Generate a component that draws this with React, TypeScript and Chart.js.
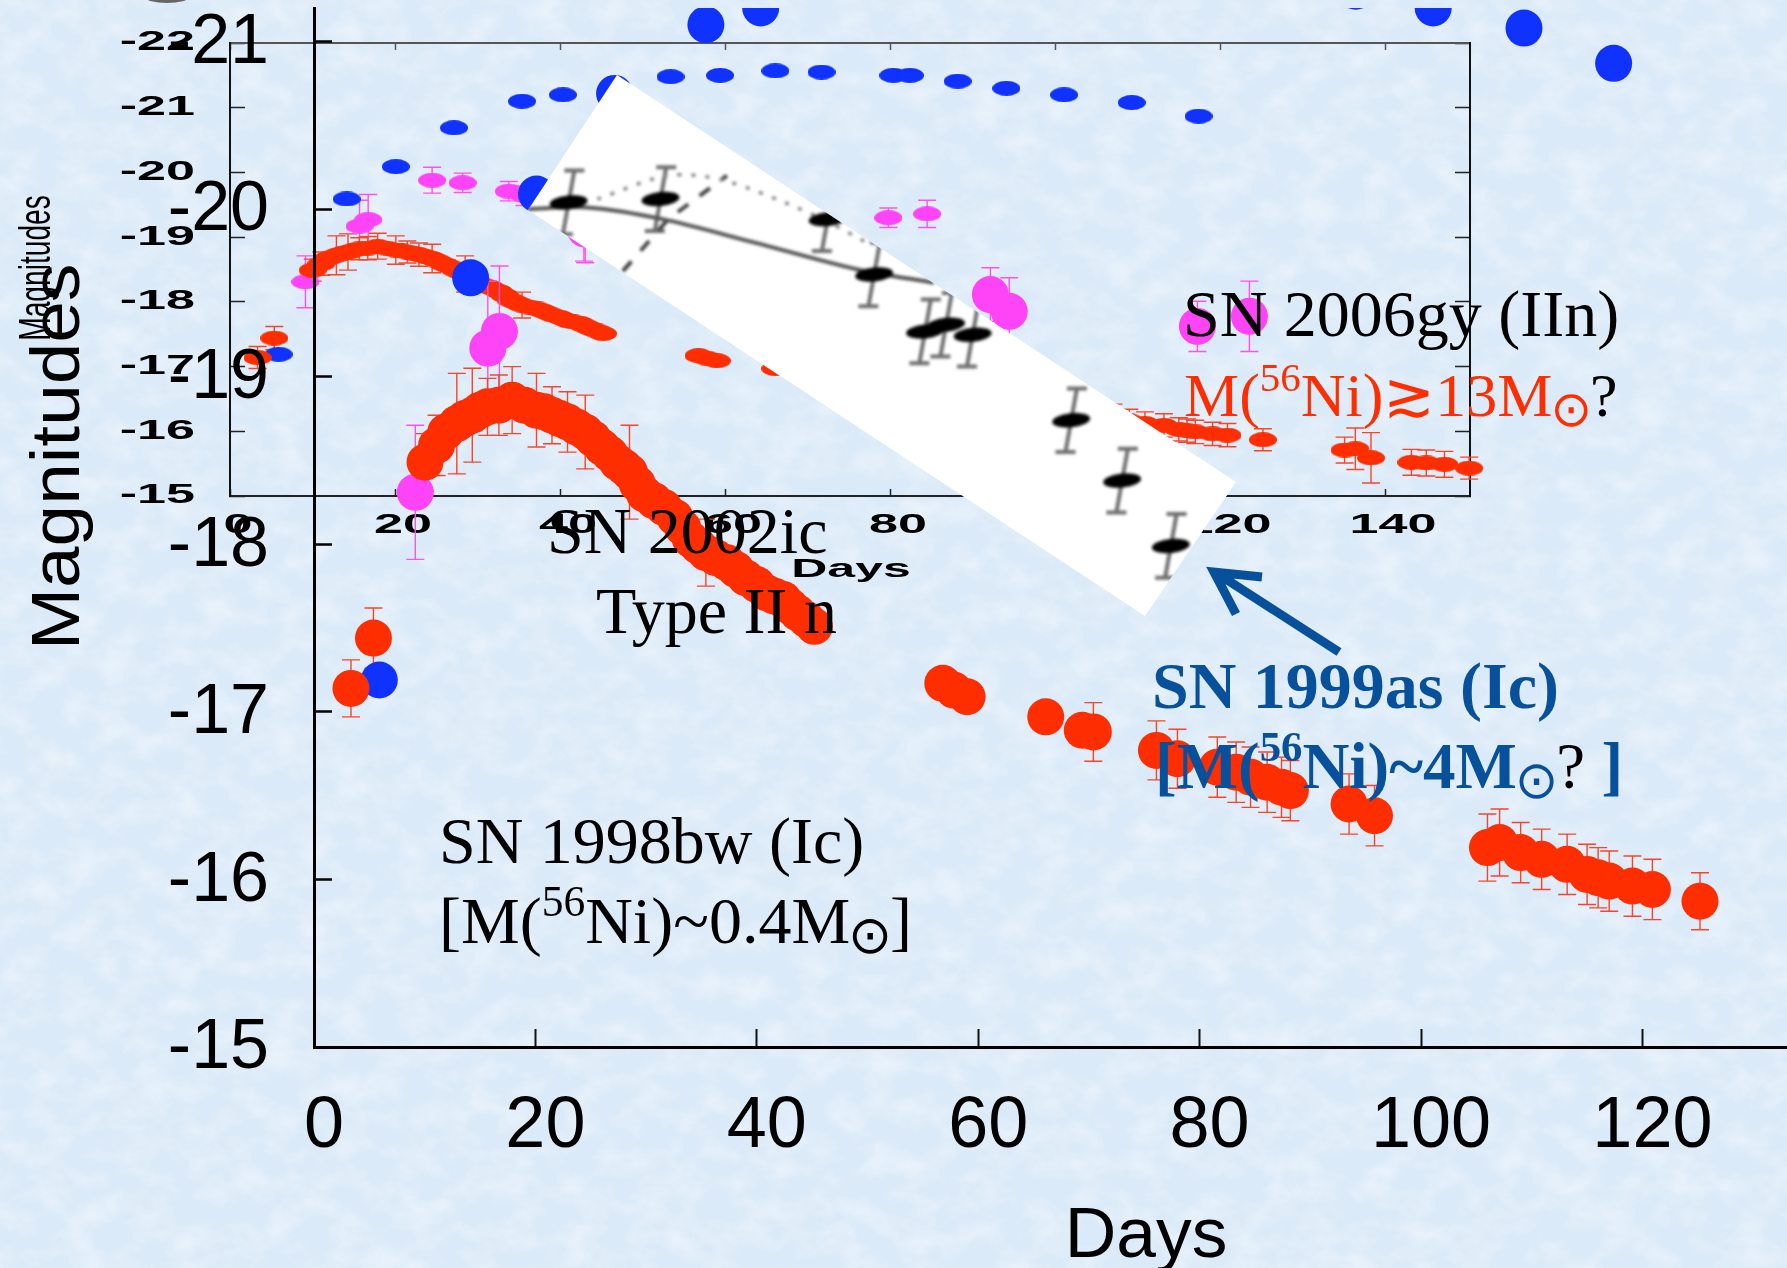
import React, { useEffect, useRef } from "react";
import { Chart, registerables } from "chart.js";

Chart.register(...registerables);

const W = 1787;
const H = 1268;

// ---------- shared light-curve data (days, absolute magnitude, error) ----------
const redDays = [3.34, 5.37, 10.03, 11.07, 11.9, 12.9, 13.6, 14.3, 15, 15.67, 16.7, 17.9, 19, 20.1, 20.8, 21.5, 22.2, 22.9, 23.7, 24.5, 25.2, 26, 26.7, 27.4, 28, 28.5, 29.2, 29.85, 30.7, 31.6, 32.6, 33.3, 34, 34.7, 35.4, 36.3, 37.3, 38.1, 39, 40, 40.9, 41.6, 42.4, 43, 43.7, 44.5, 45.2, 56.8, 57.8, 59, 66.1, 69.4, 70.4, 76.1, 78, 81.6, 83.3, 84.6, 86.1, 87.4, 88.2, 93.5, 95.8, 106, 107.1, 109, 110.9, 113.2, 115, 116, 117, 119.1, 120.9, 125.2, 135.1, 136.4, 138.3, 143.2, 145, 147.2, 150.2];
const redMags = [-17.14, -17.44, -18.49, -18.59, -18.67, -18.72, -18.75, -18.77, -18.8, -18.82, -18.83, -18.86, -18.83, -18.8, -18.79, -18.77, -18.75, -18.73, -18.7, -18.67, -18.63, -18.58, -18.54, -18.49, -18.46, -18.43, -18.36, -18.3, -18.26, -18.22, -18.16, -18.1, -18.03, -17.99, -17.95, -17.92, -17.89, -17.85, -17.8, -17.76, -17.71, -17.69, -17.67, -17.63, -17.59, -17.55, -17.51, -17.17, -17.13, -17.09, -16.97, -16.89, -16.88, -16.77, -16.72, -16.67, -16.64, -16.61, -16.58, -16.55, -16.53, -16.45, -16.38, -16.19, -16.22, -16.16, -16.12, -16.09, -16.03, -16.01, -15.99, -15.96, -15.94, -15.87, -15.71, -15.73, -15.59, -15.52, -15.51, -15.49, -15.43];
const redErrs = [0.17, 0.18, 0.17, 0.18, 0, 0.3, 0, 0.28, 0, 0.17, 0.18, 0.2, 0, 0.22, 0, 0.17, 0, 0.18, 0, 0.22, 0, 0, 0, 0, 0, 0.28, 0, 0, 0, 0, 0, 0, 0, 0, 0.2, 0, 0, 0, 0, 0, 0, 0, 0, 0, 0, 0, 0, 0, 0, 0, 0, 0, 0.175, 0.176, 0.176, 0.18, 0.18, 0.18, 0.18, 0.18, 0.18, 0.18, 0.18, 0.2, 0.2, 0.18, 0.18, 0.18, 0.18, 0.18, 0.18, 0.18, 0.18, 0.17, 0.2, 0.32, 0.39, 0.2, 0.2, 0.2, 0.17];

const pinkDays = [9.15, 15.7, 16.75, 24.5, 28.2, 33.8, 35.7, 42.9, 61.1, 62.8, 79.8, 84.5];
const pinkMags = [-18.31, -19.17, -19.27, -19.88, -19.84, -19.71, -19.64, -19.03, -19.49, -19.39, -19.3, -19.36];
const pinkErrs = [0.4, 0.4, 0.39, 0.2, 0.15, 0.15, 0.15, 0.4, 0.16, 0.2, 0.15, 0.21];
// this epoch only shows in the inset
const pinkInsetOnlyDays = [42.9];

const blueDays = [5.9, 14.15, 20.1, 27.15, 35.4, 40.35, 53.4, 59.4, 66.1, 71.7, 80.4, 82.4, 88.2, 94.1, 101.1, 109.3, 117.4];
const blueMags = [-17.19, -19.59, -20.09, -20.69, -21.1, -21.2, -21.48, -21.5, -21.57, -21.55, -21.5, -21.5, -21.41, -21.3, -21.2, -21.08, -20.87];

// SN 1999as, pasted as a rotated image in the original; read on the main axes
const asDays = [23.0, 31.3, 46.4, 50.6, 55.2, 57.1, 59.5, 68.4, 73.0, 77.4];
const asMags = [-20.04, -20.06, -19.94, -19.61, -19.27, -19.31, -19.25, -18.74, -18.38, -17.99];
const asErrs = [0.19, 0.19, 0.19, 0.19, 0.19, 0.19, 0.19, 0.19, 0.19, 0.19];
const asSolidDays = [19.3, 24.7, 31.5, 39.8, 49.1, 56];
const asSolidMags = [-20.0, -20.01, -19.94, -19.8, -19.64, -19.56];
const asDottedDays = [25.6, 32, 37.1, 45.3, 50.5];
const asDottedMags = [-20.06, -20.2, -20.17, -19.96, -19.78];
const asDashedDays = [27.9, 32, 37.3];
const asDashedMags = [-19.63, -19.94, -20.2];

// ---------- ticks ----------
const mainXTicks = [0, 20, 40, 60, 80, 100, 120];
const mainYTicks = [-21, -20, -19, -18, -17, -16, -15];
const insetXTicks = [0, 20, 40, 60, 80, 100, 120, 140];
const insetYTicks = [-22, -21, -20, -19, -18, -17, -16, -15];

const RED = "#ff2e00";
const PINK = "#ff44f8";
const BLUE = "#0f32ff";
const RED_BAR = "#f8452a";
const PINK_BAR = "#ff50f0";
const NAVY = "#07509c";

const pts = (xs: number[], ys: number[]) => xs.map((x, i) => ({ x, y: ys[i] }));

function ellipse(w: number, h: number, color: string) {
  const c = document.createElement("canvas");
  c.width = w;
  c.height = h;
  const g = c.getContext("2d")!;
  g.fillStyle = color;
  g.beginPath();
  g.ellipse(w / 2, h / 2, w / 2, h / 2, 0, 0, Math.PI * 2);
  g.fill();
  return c;
}

const errorBars = {
  id: "errorBars",
  beforeDatasetsDraw(chart: any) {
    const { ctx, chartArea } = chart;
    const clipTop = chart.options.plugins.errorBars?.clipTop;
    chart.data.datasets.slice().reverse().forEach((ds: any) => {
      if (!ds.errs) return;
      ctx.save();
      if (clipTop) {
        ctx.beginPath();
        ctx.rect(0, chartArea.top, W, H);
        ctx.clip();
      }
      ctx.strokeStyle = ds.barColor;
      ctx.lineWidth = ds.barWidth || 1.4;
      const cap = ds.capWidth || 9;
      const tilt = ds.tilt || 0;
      ds.data.forEach((p: any, i: number) => {
        const e = ds.errs[i];
        if (!e) return;
        const x = chart.scales.x.getPixelForValue(p.x);
        const y1 = chart.scales.y.getPixelForValue(p.y - e);
        const y2 = chart.scales.y.getPixelForValue(p.y + e);
        const ym = chart.scales.y.getPixelForValue(p.y);
        const x1 = x + (ym - y1) * tilt;
        const x2 = x - (y2 - ym) * tilt;
        ctx.beginPath();
        ctx.moveTo(x1, y1);
        ctx.lineTo(x2, y2);
        ctx.moveTo(x1 - cap, y1);
        ctx.lineTo(x1 + cap, y1);
        ctx.moveTo(x2 - cap, y2);
        ctx.lineTo(x2 + cap, y2);
        ctx.stroke();
      });
      ctx.restore();
    });
  },
};

// the inset's raster labels are stretched sideways, so its ticks are drawn here from its scales
const stretchedInsetTicks = {
  id: "stretchedInsetTicks",
  afterDraw(chart: any) {
    const { ctx } = chart;
    ctx.save();
    ctx.font = "bold 27px 'Liberation Sans'";
    ctx.fillStyle = "#000";
    ctx.textBaseline = "middle";
    const sx = 1.93;
    insetYTicks.forEach((v) => {
      const y = chart.scales.y.getPixelForValue(v);
      ctx.save();
      ctx.translate(195, y);
      ctx.scale(sx, 1);
      ctx.textAlign = "right";
      ctx.fillText(String(v), 0, 0);
      ctx.restore();
    });
    insetXTicks.forEach((v) => {
      const x = chart.scales.x.getPixelForValue(v);
      ctx.save();
      ctx.translate(x + 8, 526);
      ctx.scale(sx, 1);
      ctx.textAlign = "center";
      ctx.fillText(String(v), 0, 0);
      ctx.restore();
    });
    ctx.restore();
  },
};

function fixedTicks(list: number[]) {
  return (s: any) => {
    s.ticks = list.map((value) => ({ value }));
  };
}
function fixedBox(size: number, horizontal: boolean) {
  return (s: any) => {
    if (horizontal) s.height = size;
    else s.width = size;
    s.paddingLeft = s.paddingRight = s.paddingTop = s.paddingBottom = 0;
  };
}

function insetConfig(): any {
  const frame = (color: string, tick: number, display = true) => ({
    display,
    drawOnChartArea: false,
    drawTicks: true,
    tickLength: -tick,
    tickWidth: 1.5,
    tickColor: color,
  });
  const hiddenLabels = { display: false };
  const xAxis = (position: string, color: string) => ({
    type: "linear",
    axis: "x",
    position,
    min: 0,
    max: 150.3,
    afterBuildTicks: fixedTicks(insetXTicks),
    afterFit: fixedBox(0, true),
    ticks: hiddenLabels,
    grid: frame(color, 7),
    border: { display: true, color, width: 2 },
  });
  const yAxis = (position: string) => ({
    type: "linear",
    axis: "y",
    position,
    reverse: true,
    min: -22,
    max: -15,
    afterBuildTicks: fixedTicks(insetYTicks),
    afterFit: fixedBox(0, false),
    ticks: hiddenLabels,
    grid: frame("#222", 15),
    border: { display: true, color: "#111", width: 2 },
  });
  const common = { showLine: false, clip: false, pointBorderWidth: 0, pointRadius: 14, xAxisID: "x", yAxisID: "y" };
  return {
    type: "scatter",
    data: {
      datasets: [
        { ...common, label: "SN 2006gy", data: pts(redDays, redMags), errs: redErrs, barColor: RED_BAR, pointStyle: ellipse(28, 15, RED) },
        { ...common, label: "SN 2002ic", data: pts(pinkDays, pinkMags), errs: pinkErrs, barColor: PINK_BAR, pointStyle: ellipse(28, 15, PINK) },
        { ...common, label: "SN 1998bw", data: pts(blueDays, blueMags), pointStyle: ellipse(28, 15, BLUE) },
      ],
    },
    options: {
      animation: false,
      responsive: false,
      devicePixelRatio: 1,
      layout: { autoPadding: false, padding: { left: 230, top: 43, right: W - 1470, bottom: H - 496 } },
      plugins: { legend: { display: false }, tooltip: { enabled: false }, title: { display: false } },
      scales: { x: xAxis("bottom", "#222"), xTop: xAxis("top", "#555"), y: yAxis("left"), yRight: yAxis("right") },
    },
    plugins: [errorBars, stretchedInsetTicks],
  };
}

function mainScales(): any {
  return {
    x: {
      type: "linear",
      position: "bottom",
      min: 0,
      max: 133.06,
      afterBuildTicks: fixedTicks(mainXTicks),
      afterFit: fixedBox(221, true),
      ticks: { color: "#000", font: { family: "'Liberation Sans'", size: 72 }, padding: 55, labelOffset: 10, maxRotation: 0, autoSkip: false },
      grid: { drawOnChartArea: false, tickLength: -18, tickWidth: 2, tickColor: "#111" },
      border: { display: true, color: "#000", width: 3 },
    },
    y: {
      type: "linear",
      position: "left",
      reverse: true,
      min: -21.2,
      max: -15,
      afterBuildTicks: fixedTicks(mainYTicks),
      afterFit: fixedBox(314, false),
      ticks: { color: "#000", font: { family: "'Liberation Sans'", size: 70 }, padding: 63, labelOffset: 2, autoSkip: false },
      grid: { drawOnChartArea: false, tickLength: -18, tickWidth: 2.5, tickColor: "#000" },
      border: { display: true, color: "#000", width: 3 },
    },
  };
}

function mainConfig(): any {
  const common = { showLine: false, clip: { top: 0, left: false, right: false, bottom: false }, pointBorderWidth: 0, pointRadius: 18.5 };
  const keep = pinkDays.map((d) => !pinkInsetOnlyDays.includes(d));
  return {
    type: "scatter",
    data: {
      datasets: [
        { ...common, label: "SN 2006gy", data: pts(redDays, redMags), errs: redErrs, barColor: RED_BAR, pointBackgroundColor: RED },
        {
          ...common,
          label: "SN 2002ic",
          data: pts(pinkDays, pinkMags).filter((_, i) => keep[i]),
          errs: pinkErrs.filter((_, i) => keep[i]),
          barColor: PINK_BAR,
          pointBackgroundColor: PINK,
        },
        { ...common, label: "SN 1998bw", data: pts(blueDays, blueMags), pointBackgroundColor: BLUE },
      ],
    },
    options: {
      animation: false,
      responsive: false,
      devicePixelRatio: 1,
      layout: { autoPadding: false, padding: { left: 0, top: 8, right: 0, bottom: 0 } },
      plugins: { legend: { display: false }, tooltip: { enabled: false }, title: { display: false }, errorBars: { clipTop: true } },
      scales: mainScales(),
    },
    plugins: [errorBars],
  };
}

function as1999Config(): any {
  const line = { showLine: true, pointRadius: 0, clip: false, fill: false };
  return {
    type: "scatter",
    data: {
      datasets: [
        {
          label: "SN 1999as",
          showLine: false,
          clip: false,
          data: pts(asDays, asMags),
          errs: asErrs,
          barColor: "#6e6e6e",
          barWidth: 4,
          capWidth: 10,
          tilt: 0.18,
          pointRadius: 18,
          pointBorderWidth: 0,
          pointRotation: -6,
          pointStyle: ellipse(38, 14, "#000"),
        },
        { ...line, label: "model", data: pts(asSolidDays, asSolidMags), borderColor: "#555", borderWidth: 4, tension: 0.3 },
        { ...line, label: "model dotted", data: pts(asDottedDays, asDottedMags), borderColor: "#888", borderWidth: 3.5, borderDash: [4, 10], tension: 0.3 },
        { ...line, label: "model dashed", data: pts(asDashedDays, asDashedMags), borderColor: "#444", borderWidth: 4, borderDash: [13, 14] },
      ],
    },
    options: {
      animation: false,
      responsive: false,
      devicePixelRatio: 1,
      layout: { autoPadding: false, padding: { left: 314, top: 8, right: 0, bottom: 221 } },
      plugins: { legend: { display: false }, tooltip: { enabled: false }, title: { display: false } },
      scales: {
        x: { type: "linear", display: false, min: 0, max: 133.06 },
        y: { type: "linear", display: false, reverse: true, min: -21.2, max: -15 },
      },
    },
    plugins: [errorBars],
  };
}

const SERIF = "'Liberation Serif'";
const canvasStyle: React.CSSProperties = { position: "absolute", left: 0, top: 0 };
const PANEL = "polygon(617px 75px, 1236px 482px, 1145px 616px, 528px 210px)";

function T(props: { x: number; base: number; size: number; color?: string; bold?: boolean; children: React.ReactNode }) {
  const { x, base, size, color = "#000", bold, children } = props;
  return (
    <div
      style={{
        position: "absolute",
        left: x,
        top: base - size * 0.8375,
        fontFamily: SERIF,
        fontSize: size,
        lineHeight: 1,
        whiteSpace: "pre",
        color,
        fontWeight: bold ? 700 : 400,
      }}
    >
      {children}
    </div>
  );
}
const Sup = ({ children }: { children: React.ReactNode }) => (
  <span style={{ fontSize: "0.66em", position: "relative", top: "-0.62em" }}>{children}</span>
);
const Sun = () => (
  <span style={{ fontFamily: "'DejaVu Sans'", fontWeight: 400, fontSize: "0.8em", position: "relative", top: "0.2em", margin: "0 -0.04em" }}>⊙</span>
);

function Stretched(props: { text: string; cx: number; cy: number; size: number; sx: number; sy?: number; rotate?: number; bold?: boolean }) {
  const { text, cx, cy, size, sx, sy = 1, rotate = 0, bold } = props;
  return (
    <div
      style={{
        position: "absolute",
        left: cx,
        top: cy,
        fontFamily: "'Liberation Sans'",
        fontSize: size,
        lineHeight: 1,
        fontWeight: bold ? 700 : 400,
        whiteSpace: "pre",
        color: "#000",
        transform: `translate(-50%,-50%) rotate(${rotate}deg) scale(${sx},${sy})`,
      }}
    >
      {text}
    </div>
  );
}

export default function App() {
  const insetRef = useRef<HTMLCanvasElement>(null);
  const mainRef = useRef<HTMLCanvasElement>(null);
  const asRef = useRef<HTMLCanvasElement>(null);

  useEffect(() => {
    document.body.style.margin = "0";
    const charts = [
      new Chart(insetRef.current!, insetConfig()),
      new Chart(mainRef.current!, mainConfig()),
      new Chart(asRef.current!, as1999Config()),
    ];
    return () => charts.forEach((c) => c.destroy());
  }, []);

  return (
    <div style={{ position: "absolute", left: 0, top: 0, width: W, height: H, overflow: "hidden", background: "#dbeaf8" }}>
      <svg width={W} height={H} style={canvasStyle}>
        <filter id="mottle" x="0" y="0" width="100%" height="100%">
          <feTurbulence type="fractalNoise" baseFrequency="0.03 0.04" numOctaves="5" seed="7" />
          <feColorMatrix type="matrix" values="0 0 0 0 1  0 0 0 0 1  0 0 0 0 1  1.6 0 0 0 -0.62" />
        </filter>
        <rect width={W} height={H} filter="url(#mottle)" opacity="0.5" />
      </svg>
      <div style={{ position: "absolute", left: 145, top: -9, width: 44, height: 12, borderRadius: "50%", background: "#666" }} />
      <canvas ref={insetRef} width={W} height={H} style={canvasStyle} />
      <canvas ref={mainRef} width={W} height={H} style={canvasStyle} />
      <div style={{ ...canvasStyle, width: W, height: H, background: "#fff", clipPath: PANEL }} />
      <canvas ref={asRef} width={W} height={H} style={{ ...canvasStyle, filter: "blur(1.6px)", clipPath: PANEL }} />

      <Stretched text="Magnitudes" cx={35} cy={268} size={44} sx={0.64} rotate={-90} />
      <Stretched text="Magnitudes" cx={55} cy={457} size={68} sx={1.1} rotate={-90} />
      <Stretched text="Days" cx={1146} cy={1233} size={70} sx={1.02} />
      <Stretched text="Days" cx={851} cy={568} size={25} sx={2} bold />

      <T x={547} base={553} size={66}>SN 2002ic</T>
      <T x={596} base={633} size={66}>Type II n</T>
      <T x={1183} base={336} size={66}>SN 2006gy (IIn)</T>
      <T x={1184} base={416} size={62} color={RED}>
        M(<Sup>56</Sup>Ni)≳13M<Sun /><span style={{ color: "#000" }}>?</span>
      </T>
      <T x={1152} base={708} size={66} color={NAVY} bold>SN 1999as (Ic)</T>
      <T x={1155} base={788} size={65} color={NAVY} bold>
        [M(<Sup>56</Sup>Ni)~4M<Sun /><span style={{ color: "#000", fontWeight: 400 }}>?</span> ]
      </T>
      <T x={439} base={863} size={66}>SN 1998bw (Ic)</T>
      <T x={439} base={943} size={66}>
        [M(<Sup>56</Sup>Ni)~0.4M<Sun />]
      </T>

      <svg width={W} height={H} style={canvasStyle}>
        <path d="M1339 652 L1218 574 M1262 577 L1214 572 L1236 614" fill="none" stroke={NAVY} strokeWidth="9" />
      </svg>
    </div>
  );
}
